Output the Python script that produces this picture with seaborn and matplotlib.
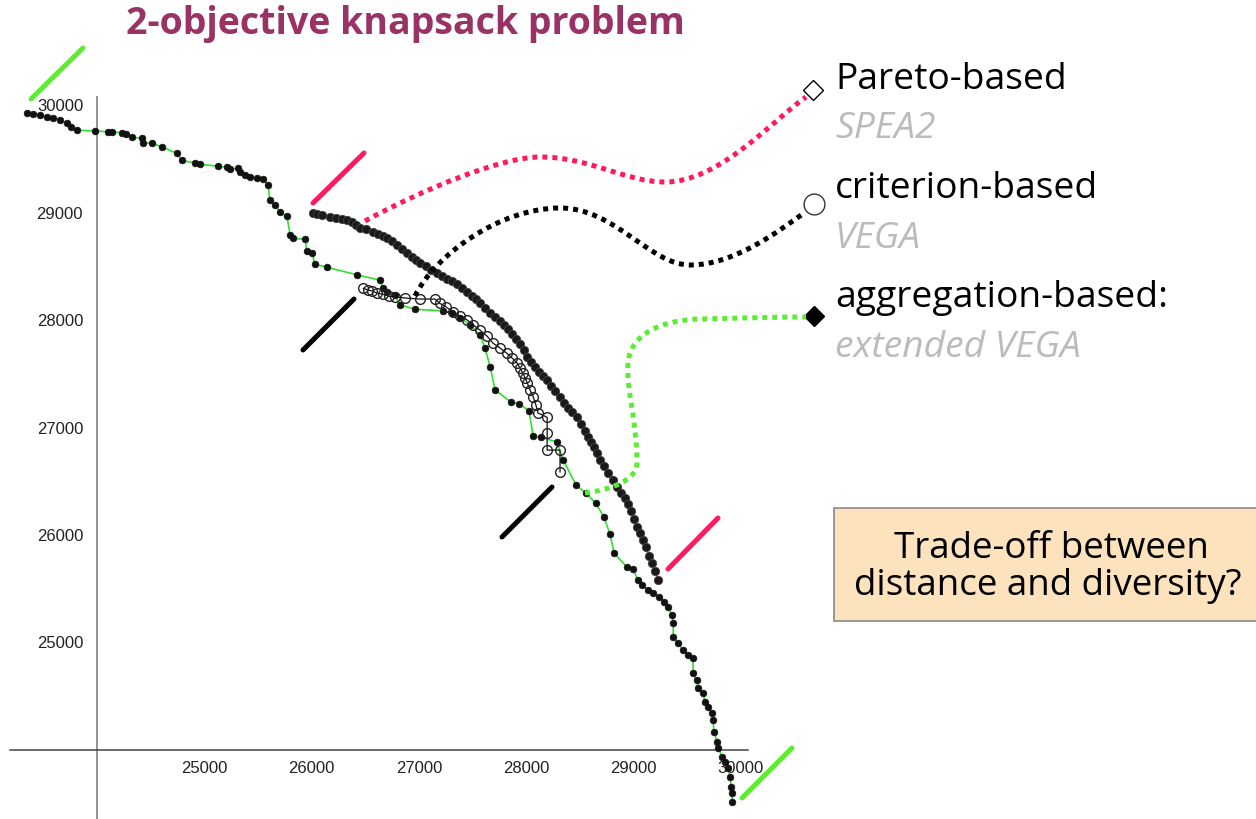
import matplotlib
matplotlib.use("Agg")
import matplotlib.pyplot as plt
from matplotlib.path import Path
from matplotlib.patches import PathPatch, Rectangle
from matplotlib.lines import Line2D
from matplotlib.ticker import FixedLocator, FormatStrFormatter
import seaborn as sns

# aggregation-based (extended VEGA) front
agg_x = [23350, 23405, 23470, 23535, 23590, 23655, 23720, 23760, 23815, 23980,
         24100, 24140, 24235, 24270, 24325, 24420, 24430, 24510, 24605, 24745,
         24790, 24915, 24960, 25130, 25210, 25240, 25315, 25335, 25380, 25425,
         25490, 25545, 25595, 25610, 25660, 25705, 25770, 25800, 25825, 25940,
         25955, 26005, 26030, 26145, 26425, 26640, 26665, 26705, 26775, 26825,
         26965, 27225, 27310, 27385, 27475, 27570, 27615, 27665, 27710, 27860,
         27935, 28025, 28065, 28140, 28285, 28345, 28465, 28555, 28650, 28725,
         28780, 28820, 28940, 28995, 29040, 29080, 29135, 29180, 29240, 29285,
         29320, 29360, 29370, 29370, 29415, 29460, 29510, 29555, 29555, 29590,
         29600, 29650, 29665, 29695, 29730, 29740, 29750, 29780, 29790, 29825,
         29855, 29880, 29900, 29910, 29920, 29920]
agg_y = [29925, 29915, 29905, 29890, 29875, 29860, 29830, 29795, 29765, 29760,
         29750, 29750, 29740, 29730, 29700, 29690, 29645, 29645, 29610, 29550,
         29485, 29460, 29450, 29430, 29420, 29405, 29410, 29375, 29350, 29330,
         29320, 29315, 29255, 29115, 29070, 29005, 28965, 28790, 28760, 28750,
         28640, 28620, 28520, 28490, 28420, 28370, 28295, 28260, 28230, 28140,
         28100, 28085, 28065, 28020, 27955, 27860, 27740, 27560, 27350, 27235,
         27220, 27155, 26920, 26910, 26865, 26695, 26465, 26390, 26295, 26165,
         26010, 25830, 25700, 25685, 25580, 25535, 25490, 25460, 25425, 25375,
         25330, 25255, 25180, 25050, 24995, 24930, 24885, 24855, 24715, 24650,
         24575, 24530, 24445, 24400, 24345, 24280, 24165, 24075, 24020, 23935,
         23890, 23835, 23750, 23655, 23600, 23515]

# Pareto-based (SPEA2) front
spea_x = [26015, 26050, 26095, 26170, 26230, 26285, 26330, 26375, 26415, 26450,
          26505, 26570, 26620, 26665, 26705, 26750, 26795, 26845, 26890, 26935,
          26975, 27010, 27065, 27115, 27170, 27215, 27260, 27310, 27355, 27400,
          27450, 27495, 27530, 27570, 27615, 27665, 27710, 27755, 27795, 27830,
          27870, 27905, 27940, 27980, 28010, 28045, 28080, 28120, 28155, 28195,
          28230, 28270, 28315, 28350, 28390, 28425, 28475, 28510, 28550, 28575,
          28605, 28630, 28660, 28690, 28725, 28765, 28810, 28845, 28885, 28920,
          28950, 28975, 29005, 29035, 29060, 29090, 29115, 29145, 29175, 29200,
          29230]
spea_y = [28995, 28985, 28975, 28955, 28950, 28940, 28930, 28910, 28880, 28855,
          28845, 28815, 28800, 28780, 28760, 28735, 28695, 28660, 28620, 28585,
          28555, 28530, 28500, 28465, 28435, 28410, 28380, 28360, 28335, 28295,
          28260, 28220, 28195, 28155, 28110, 28065, 28025, 27990, 27955, 27915,
          27870, 27820, 27775, 27720, 27655, 27610, 27560, 27515, 27480, 27440,
          27385, 27340, 27285, 27225, 27180, 27145, 27095, 27030, 26965, 26910,
          26865, 26820, 26760, 26695, 26640, 26575, 26510, 26445, 26390, 26345,
          26290, 26225, 26150, 26075, 26020, 25955, 25890, 25805, 25740, 25665,
          25580]

# criterion-based (VEGA) front
vega_x = [26480, 26525, 26565, 26610, 26665, 26720, 26775, 26870, 27010, 27150,
          27195, 27255, 27320, 27385, 27450, 27505, 27570, 27635, 27690, 27755,
          27820, 27870, 27915, 27940, 27970, 27990, 28010, 28035, 28065, 28090,
          28110, 28195, 28195, 28195, 28315, 28315]
vega_y = [28295, 28280, 28270, 28250, 28240, 28220, 28215, 28205, 28195, 28195,
          28155, 28120, 28075, 28035, 28000, 27955, 27905, 27850, 27785, 27740,
          27690, 27645, 27600, 27555, 27505, 27460, 27415, 27350, 27285, 27210,
          27135, 27095, 26950, 26790, 26790, 26585]

major_ticks = [25000, 26000, 27000, 28000, 29000, 30000]

PINK = "#FF1A5E"
GREEN = "#5EEB34"
W, H = 1256, 819

sns.set_style("white")
plt.rcParams["font.family"] = ["Open Sans", "DejaVu Sans"]

fig = plt.figure(figsize=(W / 100, H / 100), dpi=100)
ax = fig.add_axes([0, 0, 1, 1])
ax.set_xlim(23096, 34801)
ax.set_ylim(23358, 30977)

# fronts
sns.lineplot(x=agg_x, y=agg_y, sort=False, estimator=None, ax=ax,
             color="#2FE02F", lw=1.2, marker="o", ms=4.8,
             mfc="#111111", mec="#111111", mew=0.5, zorder=3)
sns.lineplot(x=vega_x, y=vega_y, sort=False, estimator=None, ax=ax,
             color="#111111", lw=0.9, marker="o", ms=7,
             mfc="none", mec="#222222", mew=1.0, zorder=4)
sns.lineplot(x=spea_x, y=spea_y, sort=False, estimator=None, ax=ax,
             color="#FF3030", lw=1.0, marker="o", ms=6,
             mfc="#1a1a1a", mec="#444444", mew=0.6, zorder=5)
ax.set_xlabel("")
ax.set_ylabel("")

# crossing axes at (24000, 24000)
for s in ("top", "right"):
    ax.spines[s].set_visible(False)
ax.spines["left"].set_position(("data", 24000))
ax.spines["bottom"].set_position(("data", 24000))
ax.spines["left"].set_bounds(23358, 30073)
ax.spines["bottom"].set_bounds(23189, 30067)
ax.spines["left"].set_color("#8a8a8a")
ax.spines["bottom"].set_color("#444444")
ax.spines["left"].set_linewidth(1.3)
ax.spines["bottom"].set_linewidth(1.1)

ax.xaxis.set_major_locator(FixedLocator(major_ticks))
ax.yaxis.set_major_locator(FixedLocator(major_ticks))
ax.xaxis.set_minor_locator(FixedLocator(range(23200, 30001, 200)))
ax.yaxis.set_minor_locator(FixedLocator(range(23400, 30001, 200)))
ax.xaxis.set_major_formatter(FormatStrFormatter("%d"))
ax.yaxis.set_major_formatter(FormatStrFormatter("%d"))
ax.tick_params(which="both", direction="in", colors="#555555",
               labelcolor="#222222", labelsize=12,
               labelfontfamily="Liberation Sans")
ax.tick_params(which="major", length=5, width=0.9)
ax.tick_params(which="minor", length=3, width=0.7)
ax.tick_params(axis="x", which="both", pad=8)
ax.tick_params(axis="y", which="both", pad=10)
ax.grid(False)


def P(x, y):
    return (x / W, 1 - y / H)


def bezier(points, color):
    codes = [Path.MOVETO] + [Path.CURVE4] * (len(points) - 1)
    verts = [P(*p) for p in points]
    patch = PathPatch(Path(verts, codes), transform=fig.transFigure, fill=False,
                      ec=color, lw=3.6, linestyle=(0, (1, 1)),
                      capstyle="butt", zorder=6)
    fig.patches.append(patch)


bezier([(365, 221), (420, 191), (500, 157), (540, 157),
        (590, 157), (625, 182), (665, 182),
        (720, 182), (775, 118), (806, 97)], PINK)
bezier([(415, 296), (435, 255), (500, 208), (560, 208),
        (615, 208), (650, 265), (690, 265),
        (735, 265), (780, 230), (804, 213)], "black")
bezier([(585, 493), (610, 490), (637, 480), (637, 463),
        (637, 420), (626, 390), (628, 363),
        (630, 335), (660, 320), (700, 319),
        (740, 318), (780, 317), (806, 317)], GREEN)

# slanted extent bars
bars = [((31, 99), (83, 48), GREEN), ((742, 798), (792, 748), GREEN),
        ((313, 203), (364, 153), PINK), ((668, 569), (718, 518), PINK),
        ((303, 350), (354, 299), "black"), ((502, 537), (552, 487), "black")]
for a, b, c in bars:
    fig.lines.append(Line2D([a[0] / W, b[0] / W], [1 - a[1] / H, 1 - b[1] / H],
                            transform=fig.transFigure, color=c, lw=3.6,
                            solid_capstyle="round"))

# end markers
fig.lines.append(Line2D([813 / W], [1 - 90 / H], transform=fig.transFigure,
                        marker="D", ms=10, mfc="white", mec="black", mew=1))
fig.lines.append(Line2D([814 / W], [1 - 204 / H], transform=fig.transFigure,
                        marker="o", ms=15, mfc="white", mec="#333333", mew=1))
fig.lines.append(Line2D([814 / W], [1 - 316 / H], transform=fig.transFigure,
                        marker="D", ms=10, mfc="black", mec="black", mew=1))

# texts
fig.text(*P(405, 34), "2-objective knapsack problem", ha="center",
         va="baseline", fontsize=27, fontweight="bold", color="#993366")
labels = [(89, "Pareto-based", "normal", "black"),
          (138, "SPEA2", "italic", "#BBBBBB"),
          (198, "criterion-based", "normal", "black"),
          (248, "VEGA", "italic", "#BBBBBB"),
          (307, "aggregation-based:", "normal", "black"),
          (357, "extended VEGA", "italic", "#BBBBBB")]
for yb, txt, st, col in labels:
    fig.text(*P(835, yb), txt, ha="left", va="baseline", fontsize=26.8,
             fontstyle=st, color=col)

box = Rectangle(P(834, 621), (1262 - 834) / W, (621 - 508) / H,
                transform=fig.transFigure, fc="#FCE3BD", ec="#8a8a8a", lw=1.2)
fig.patches.append(box)
fig.text(*P(1051, 558), "Trade-off between", ha="center", va="baseline",
         fontsize=26.5, color="black")
fig.text(*P(1048, 595), "distance and diversity?", ha="center", va="baseline",
         fontsize=26.5, color="black")

fig.savefig("out.png", dpi=100)
